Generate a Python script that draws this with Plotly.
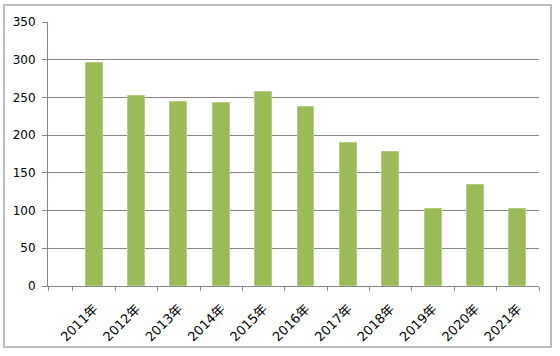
import plotly.graph_objects as go

categories = ["2011年", "2012年", "2013年", "2014年", "2015年", "2016年",
              "2017年", "2018年", "2019年", "2020年", "2021年"]
values = [295, 252, 244, 243, 257, 237, 190, 177, 102, 134, 102]
y_ticks = [0, 50, 100, 150, 200, 250, 300, 350]

xpos = list(range(len(categories)))
x_left = -0.5 - 25 / 42.4

fig = go.Figure(go.Bar(
    x=xpos, y=values, width=0.4,
    marker=dict(color="#9BBB59", line=dict(color="#B3CD80", width=1)),
))

L, R, T, B = 48, 539, 22, 286
W, H = R - L, B - T

def px(x):
    return (x - L) / W

def py(y):
    return (B - y) / H

fig.add_shape(type="rect", xref="paper", yref="paper",
              x0=px(4), x1=px(551), y0=py(347), y1=py(5),
              line=dict(color="#A6A6A6", width=1.5), fillcolor="rgba(0,0,0,0)",
              layer="below")

fig.update_layout(
    width=560, height=356,
    margin=dict(l=L, r=560 - R, t=T, b=356 - B),
    paper_bgcolor="white", plot_bgcolor="white",
    font=dict(family="DejaVu Sans, Noto Sans CJK SC", size=12, color="#000000"),
    showlegend=False,
    bargap=0,
    xaxis=dict(
        range=[x_left, len(categories) - 0.5],
        tickmode="array", tickvals=xpos, ticktext=categories,
        tickangle=-45, ticks="", showgrid=False, zeroline=False,
        showline=True, linecolor="#868686", linewidth=1,
        tickfont=dict(size=13), ticklabelstandoff=9,
        minor=dict(tickmode="array",
                   tickvals=[x_left] + [i - 0.5 for i in range(len(categories) + 1)],
                   ticks="outside", ticklen=4, tickcolor="#868686", showgrid=False),
        fixedrange=True,
    ),
    yaxis=dict(
        range=[0, 350], tickmode="array", tickvals=y_ticks,
        ticks="outside", ticklen=5, tickcolor="#868686",
        showgrid=True, gridcolor="#868686", gridwidth=1,
        showline=True, linecolor="#868686", linewidth=1, zeroline=False,
        tickfont=dict(size=12), ticklabelstandoff=4,
        fixedrange=True,
    ),
)

fig.write_html("out.html", config={"displayModeBar": False},
               post_script="document.body.style.margin='0';document.body.style.overflow='hidden';")
